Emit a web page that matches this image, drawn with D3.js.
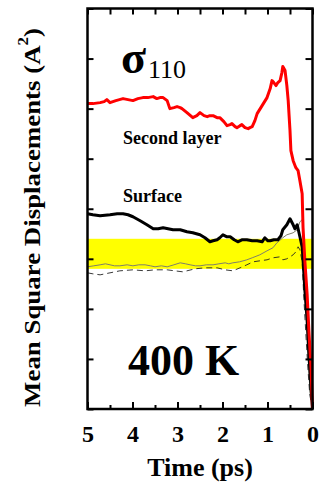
<!DOCTYPE html>
<html>
<head>
<meta charset="utf-8">
<script src="https://cdn.jsdelivr.net/npm/d3@7"></script>
<style>
  html, body { margin: 0; padding: 0; background: #fff; }
  svg { display: block; }
  text { font-family: "Liberation Serif", "Times New Roman", serif; }
</style>
</head>
<body>
<script>
// ---- data (time in ps, MSD in arbitrary tick units) ----
const xTicks = [5, 4, 3, 2, 1, 0];
const bandRange = [2.8, 3.4];

const secondLayerT = [5.00,4.88,4.72,4.63,4.57,4.50,4.37,4.21,4.10,3.99,3.88,3.77,3.66,3.54,3.46,3.39,3.32,3.23,3.17,3.08,3.01,2.94,2.90,2.79,2.66,2.57,2.50,2.41,2.34,2.28,2.21,2.12,2.06,1.97,1.90,1.83,1.79,1.72,1.68,1.61,1.57,1.50,1.43,1.39,1.34,1.28,1.23,1.12,1.01,0.94,0.90,0.86,0.81,0.77,0.72,0.68,0.66,0.61,0.57,0.54,0.50,0.48,0.43,0.37,0.32,0.28,0.23,0.21,0.17,0.12,0.08,0.03,0.00];
const secondLayerV = [6.10,6.10,6.12,6.14,6.18,6.12,6.16,6.20,6.18,6.16,6.20,6.22,6.22,6.24,6.20,6.22,6.22,6.16,6.00,6.02,6.04,6.02,6.00,5.92,5.82,5.86,5.92,5.86,5.84,5.86,5.86,5.82,5.82,5.74,5.66,5.68,5.70,5.64,5.62,5.66,5.68,5.62,5.60,5.62,5.64,5.76,5.90,6.06,6.22,6.40,6.56,6.52,6.46,6.52,6.56,6.72,6.84,6.76,6.46,6.16,5.56,5.16,4.96,4.82,4.76,4.56,4.30,3.62,2.96,2.30,1.56,0.76,0.00];

const surfaceT = [5.00,4.88,4.72,4.50,4.34,4.21,4.10,3.99,3.83,3.68,3.54,3.43,3.32,3.21,3.10,2.94,2.79,2.66,2.50,2.39,2.28,2.21,2.12,2.06,1.99,1.90,1.83,1.74,1.66,1.57,1.46,1.34,1.23,1.12,1.06,0.99,0.94,0.86,0.77,0.70,0.66,0.57,0.50,0.43,0.39,0.34,0.28,0.23,0.21,0.17,0.12,0.08,0.03,0.00];
const surfaceV = [3.90,3.88,3.86,3.88,3.90,3.90,3.88,3.84,3.76,3.68,3.60,3.60,3.62,3.60,3.58,3.58,3.54,3.52,3.48,3.42,3.34,3.36,3.38,3.42,3.48,3.44,3.44,3.38,3.34,3.38,3.38,3.36,3.36,3.34,3.42,3.36,3.36,3.38,3.38,3.46,3.58,3.68,3.80,3.68,3.60,3.68,3.44,3.24,2.98,2.38,1.78,1.08,0.38,0.00];

const thinT = [5.00,4.86,4.72,4.60,4.50,4.40,4.28,4.12,3.99,3.86,3.72,3.60,3.50,3.36,3.23,3.08,2.94,2.82,2.72,2.60,2.50,2.36,2.21,2.08,1.94,1.86,1.77,1.62,1.46,1.34,1.17,1.01,0.88,0.79,0.66,0.57,0.43,0.34,0.28,0.23,0.19,0.14,0.10,0.06,0.00];
const thinV = [2.84,2.86,2.88,2.90,2.88,2.86,2.86,2.88,2.86,2.88,2.88,2.86,2.84,2.86,2.84,2.88,2.92,2.90,2.88,2.86,2.86,2.88,2.88,2.90,2.92,2.90,2.92,2.94,2.98,3.02,3.08,3.16,3.22,3.32,3.42,3.48,3.52,3.58,3.74,3.78,3.38,2.18,1.18,0.38,0.00];

const dashT = [5.00,4.88,4.72,4.50,4.28,3.99,3.72,3.50,3.23,3.06,2.88,2.61,2.39,2.12,1.94,1.77,1.61,1.46,1.32,1.17,1.01,0.88,0.72,0.66,0.57,0.50,0.43,0.37,0.32,0.28,0.23,0.19,0.14,0.10,0.06,0.00];
const dashV = [2.72,2.70,2.68,2.72,2.76,2.78,2.76,2.78,2.78,2.76,2.74,2.80,2.82,2.82,2.78,2.76,2.82,2.88,2.94,2.96,2.98,3.02,3.04,2.98,3.00,3.04,3.08,3.14,3.24,3.18,2.94,2.18,1.38,0.78,0.28,0.00];

// ---- layout ----
const W = 321, H = 485;
const mLeft = 87.5, mRight = 312.5, mTop = 8.5, mBottom = 409;

const svg = d3.select("body").append("svg").attr("width", W).attr("height", H);

const x = d3.scaleLinear().domain([5, 0]).range([mLeft, mRight]);
const y = d3.scaleLinear().domain([0, 8]).range([mBottom, mTop]);

// yellow band
svg.append("rect")
  .attr("x", mLeft).attr("width", mRight - mLeft)
  .attr("y", y(bandRange[1])).attr("height", y(bandRange[0]) - y(bandRange[1]))
  .attr("fill", "#ffff00");

const line = d3.line().x(d => x(d[0])).y(d => y(d[1]));
const zip = (a, b) => a.map((v, i) => [v, b[i]]);

svg.append("path").datum(zip(thinT, thinV)).attr("d", line)
  .attr("fill", "none").attr("stroke", "#7f7f6a").attr("stroke-width", 1);
svg.append("path").datum(zip(dashT, dashV)).attr("d", line)
  .attr("fill", "none").attr("stroke", "#222").attr("stroke-width", 0.9)
  .attr("stroke-dasharray", "6,4");
svg.append("path").datum(zip(surfaceT, surfaceV)).attr("d", line)
  .attr("fill", "none").attr("stroke", "#000").attr("stroke-width", 3)
  .attr("stroke-linejoin", "round");
svg.append("path").datum(zip(secondLayerT, secondLayerV)).attr("d", line)
  .attr("fill", "none").attr("stroke", "#ff0000").attr("stroke-width", 3)
  .attr("stroke-linejoin", "round");

// axes (ticks inward)
const minorX = d3.range(0, 5.01, 0.5);
const majorY = d3.range(0, 8.01, 1);

const gB = svg.append("g").attr("transform", `translate(0,${mBottom})`)
  .call(d3.axisBottom(x).tickValues(minorX).tickSize(-4).tickFormat(""));
const gB2 = svg.append("g").attr("transform", `translate(0,${mBottom})`)
  .call(d3.axisBottom(x).tickValues(xTicks).tickSize(-7).tickFormat(d3.format("d")));
const gT = svg.append("g").attr("transform", `translate(0,${mTop})`)
  .call(d3.axisTop(x).tickValues(minorX).tickSize(-6).tickFormat(""));
const gL = svg.append("g").attr("transform", `translate(${mLeft},0)`)
  .call(d3.axisLeft(y).tickValues(majorY).tickSize(-6).tickFormat(""));
const gR = svg.append("g").attr("transform", `translate(${mRight},0)`)
  .call(d3.axisRight(y).tickValues(majorY).tickSize(-7).tickFormat(""));

[gB, gB2, gT, gL, gR].forEach(g => {
  g.select(".domain").remove();
  g.selectAll(".tick line").attr("stroke", "#000").attr("stroke-width", 2);
});
gB2.selectAll(".tick text")
  .attr("fill", "#000").attr("font-size", 24).attr("font-weight", "bold")
  .attr("font-family", "Liberation Serif, serif")
  .attr("dy", null).attr("y", 33);

// frame
svg.append("rect").attr("x", mLeft).attr("y", mTop)
  .attr("width", mRight - mLeft).attr("height", mBottom - mTop)
  .attr("fill", "none").attr("stroke", "#000").attr("stroke-width", 2.5);

// labels
svg.append("text").attr("x", 200).attr("y", 476).attr("text-anchor", "middle")
  .attr("font-size", 26).attr("font-weight", "bold").text("Time (ps)");

const yl = svg.append("text").attr("text-anchor", "middle")
  .attr("font-size", 24).attr("font-weight", "bold");
yl.append("tspan").text("Mean Square Displacements (A");
yl.append("tspan").attr("font-size", 15).attr("dy", -12).text("2");
yl.append("tspan").attr("dy", 12).text(")");
const len = yl.node().getComputedTextLength();
const sx = 379 / len;
yl.attr("transform", `translate(40,217.5) rotate(-90) scale(${sx},1)`);

svg.append("text").attr("x", 121).attr("y", 73)
  .attr("font-size", 46).attr("font-weight", "bold").text("σ");
svg.append("text").attr("x", 148).attr("y", 78)
  .attr("font-size", 26).text("110");

svg.append("text").attr("x", 123).attr("y", 144)
  .attr("font-size", 18).attr("font-weight", "bold").text("Second layer");
svg.append("text").attr("x", 123).attr("y", 202)
  .attr("font-size", 18).attr("font-weight", "bold").text("Surface");

svg.append("text").attr("x", 128).attr("y", 375)
  .attr("font-size", 44).attr("font-weight", "bold").text("400 K");
</script>
</body>
</html>
